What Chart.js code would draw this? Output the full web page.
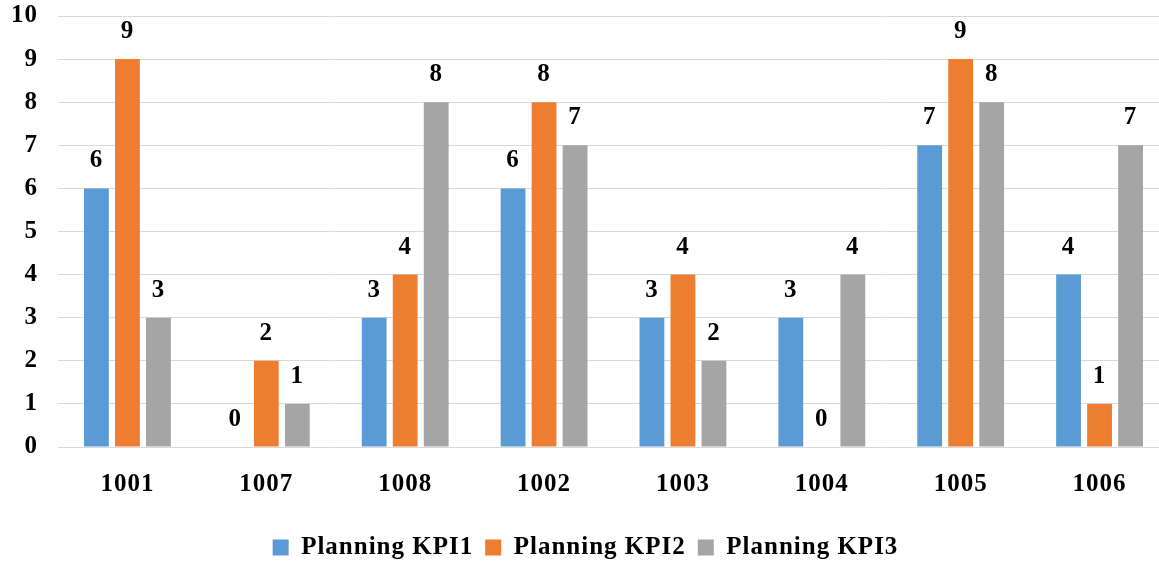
<!DOCTYPE html>
<html>
<head>
    <title>Planning KPI</title>
    <script src="https://cdn.jsdelivr.net/npm/chart.js"></script>
    <style>
        body {
            margin: 0;
            background-color: #ffffff;
        }
        .chart-container {
            width: 1159px;
            height: 564px;
        }
    </style>
</head>
<body>
    <div class="chart-container">
        <canvas id="chart1" width="1159" height="564"></canvas>
    </div>

    <script>
        const categories = ['1001', '1007', '1008', '1002', '1003', '1004', '1005', '1006'];
        const kpi1 = [6, 0, 3, 6, 3, 3, 7, 4];
        const kpi2 = [9, 2, 4, 8, 4, 0, 9, 1];
        const kpi3 = [3, 1, 8, 7, 2, 4, 8, 7];
        const yTicks = [0, 1, 2, 3, 4, 5, 6, 7, 8, 9, 10];

        const serif = '"Liberation Serif", "Times New Roman", serif';

        // the original text is a bit wider than Liberation Serif
        const wideText = {
            id: 'wideText',
            beforeLayout(chart) { chart.ctx.letterSpacing = '1px'; },
            beforeDraw(chart) { chart.ctx.letterSpacing = '1px'; }
        };

        // the original plot runs a little past the right edge of the picture
        const widenPlot = {
            id: 'widenPlot',
            afterLayout(chart) {
                const x = chart.scales.x;
                x.right += 10;
                x.width += 10;
                x.configure();
                chart.chartArea.right += 10;
                chart.chartArea.width += 10;
            }
        };

        // value labels above each bar
        const valueLabels = {
            id: 'valueLabels',
            afterDatasetsDraw(chart) {
                const ctx = chart.ctx;
                ctx.save();
                ctx.font = 'bold 25px ' + serif;
                ctx.fillStyle = '#000000';
                ctx.textAlign = 'center';
                ctx.textBaseline = 'alphabetic';
                chart.data.datasets.forEach((ds, i) => {
                    chart.getDatasetMeta(i).data.forEach((bar, j) => {
                        ctx.fillText(ds.data[j], bar.x, bar.y - 21);
                    });
                });
                ctx.restore();
            }
        };

        const ctx1 = document.getElementById('chart1').getContext('2d');
        const chart1 = new Chart(ctx1, {
            type: 'bar',
            data: {
                labels: categories,
                datasets: [
                    { label: 'Planning KPI1', data: kpi1, backgroundColor: '#5B9BD5' },
                    { label: 'Planning KPI2', data: kpi2, backgroundColor: '#ED7D31' },
                    { label: 'Planning KPI3', data: kpi3, backgroundColor: '#A5A5A5' }
                ]
            },
            options: {
                responsive: false,
                animation: false,
                layout: { padding: { top: 16, right: 0, left: 12, bottom: -6 } },
                datasets: {
                    bar: { barPercentage: 0.8, categoryPercentage: 0.67 }
                },
                scales: {
                    x: {
                        grid: { display: false, drawTicks: false },
                        border: { color: '#d9d9d9' },
                        afterFit: axis => {
                            axis.height = 76;
                            axis.paddingLeft = 0;
                            axis.paddingRight = 0;
                        },
                        ticks: {
                            color: '#000000',
                            font: { family: serif, size: 25, weight: 'bold' },
                            padding: 23
                        }
                    },
                    y: {
                        min: 0,
                        max: 10,
                        afterBuildTicks: axis => { axis.ticks = yTicks.map(v => ({ value: v })); },
                        afterFit: axis => {
                            axis.width = 46;
                            axis.paddingTop = 0;
                            axis.paddingBottom = 0;
                        },
                        grid: { color: '#d9d9d9', drawTicks: false },
                        border: { display: false },
                        ticks: {
                            color: '#000000',
                            font: { family: serif, size: 25, weight: 'bold' },
                            padding: 20
                        }
                    }
                },
                plugins: {
                    legend: {
                        position: 'bottom',
                        labels: {
                            color: '#000000',
                            boxWidth: 16,
                            boxHeight: 16,
                            padding: 12,
                            font: { family: serif, size: 25, weight: 'bold' }
                        }
                    },
                    tooltip: { enabled: false }
                }
            },
            plugins: [wideText, widenPlot, valueLabels]
        });
    </script>
</body>
</html>
